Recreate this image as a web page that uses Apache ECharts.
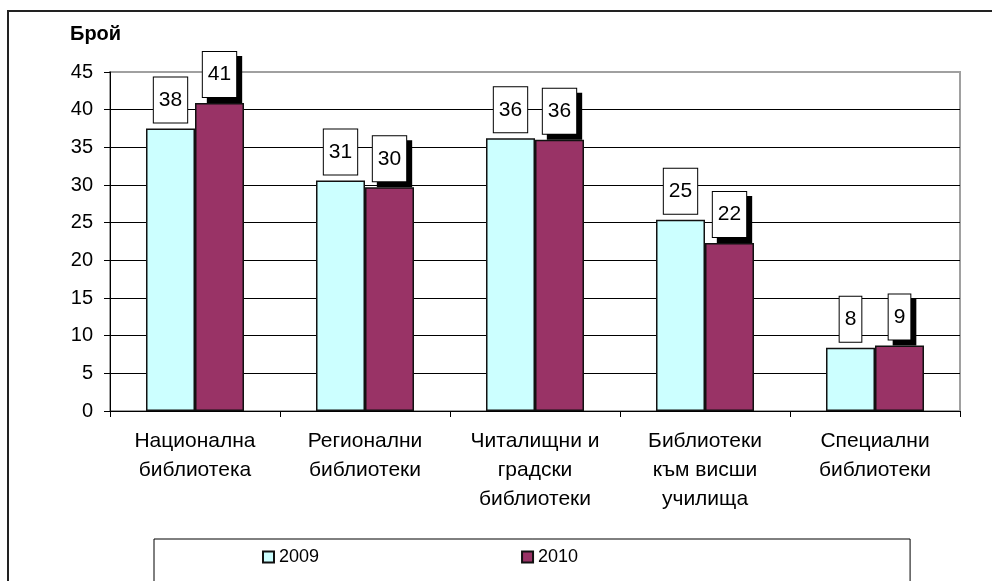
<!DOCTYPE html>
<html>
<head>
<meta charset="utf-8">
<script src="https://cdn.jsdelivr.net/npm/echarts@6/dist/echarts.min.js"></script>
<style>
  html, body { margin: 0; padding: 0; background: #fff; }
  #chart { width: 992px; height: 581px; }
</style>
</head>
<body>
<div id="chart"></div>
<script>
// категории и стойности
const categories = [
  'Национална\nбиблиотека',
  'Регионални\nбиблиотеки',
  'Читалищни и\nградски\nбиблиотеки',
  'Библиотеки\nкъм висши\nучилища',
  'Специални\nбиблиотеки'
]
const values2009 = [37.5, 30.6, 36.2, 25.4, 8.4]
const values2010 = [40.9, 29.7, 36.0, 22.3, 8.7]
const yTicks = { min: 0, max: 45, interval: 5 }

const font = 'Liberation Sans, Arial, sans-serif'

function boxLabel (shadow) {
  return {
    show: true,
    position: 'top',
    distance: 6,
    formatter: function (p) { return Math.round(p.value) },
    fontFamily: font,
    fontSize: 21,
    color: '#000',
    backgroundColor: '#fff',
    borderColor: '#000',
    borderWidth: 1,
    padding: [12, 5, 12, 5],
    shadowColor: shadow ? '#000' : 'transparent',
    shadowBlur: 0,
    shadowOffsetX: shadow ? 5 : 0,
    shadowOffsetY: shadow ? 5 : 0
  }
}

let myChart = echarts.init(document.getElementById('chart'))
myChart.setOption({
  animation: false,
  backgroundColor: '#fff',
  title: {
    text: 'Брой',
    left: 70,
    top: 24,
    padding: 0,
    textStyle: { fontFamily: font, fontSize: 20, fontWeight: 'bold', color: '#000' }
  },
  graphic: [
    {
      type: 'rect',
      shape: { x: 8, y: 11, width: 1000, height: 600 },
      style: { fill: 'none', stroke: '#222', lineWidth: 2 },
      z: -1
    }
  ],
  grid: {
    left: 110,
    right: 32,
    top: 72,
    bottom: 170,
    show: true,
    borderColor: '#a0a0a0',
    borderWidth: 2
  },
  legend: {
    left: 154,
    top: 539,
    padding: [9, 332, 30, 108],
    itemGap: 202,
    itemWidth: 11,
    itemHeight: 11,
    borderColor: '#000',
    borderWidth: 1,
    icon: 'rect',
    textStyle: { fontFamily: font, fontSize: 18, color: '#000' },
    data: ['2009', '2010']
  },
  xAxis: {
    type: 'category',
    data: categories,
    axisLine: { lineStyle: { color: '#000', width: 1 } },
    axisTick: { show: true, length: 6, lineStyle: { color: '#000' } },
    axisLabel: {
      interval: 0,
      margin: 16,
      fontFamily: font,
      fontSize: 21,
      lineHeight: 29,
      color: '#000'
    }
  },
  yAxis: {
    type: 'value',
    min: yTicks.min,
    max: yTicks.max,
    interval: yTicks.interval,
    axisLine: { show: true, lineStyle: { color: '#000', width: 1 } },
    axisTick: { show: true, length: 6, lineStyle: { color: '#000' } },
    axisLabel: { margin: 17, fontFamily: font, fontSize: 20, color: '#000' },
    splitLine: { showMaxLine: false, lineStyle: { color: '#000', width: 1 } }
  },
  series: [
    {
      name: '2009',
      type: 'bar',
      data: values2009,
      barWidth: 49,
      barGap: '0%',
      itemStyle: { color: '#ccffff', borderColor: '#111', borderWidth: 1.5 },
      label: boxLabel(false)
    },
    {
      name: '2010',
      type: 'bar',
      data: values2010,
      barWidth: 49,
      itemStyle: { color: '#993366', borderColor: '#111', borderWidth: 1.5 },
      label: boxLabel(true)
    }
  ]
})
</script>
</body>
</html>
